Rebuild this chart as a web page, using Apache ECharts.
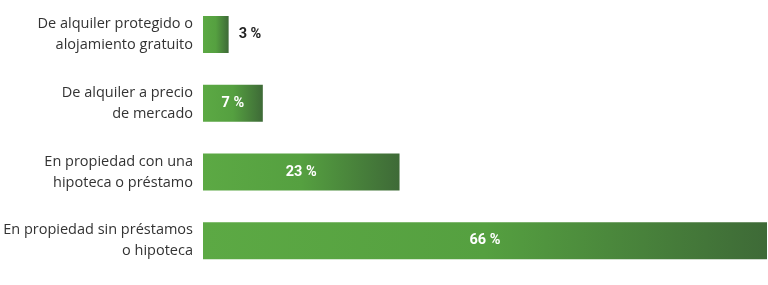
<!DOCTYPE html>
<html><head><meta charset="utf-8">
<script src="https://cdn.jsdelivr.net/npm/echarts@6/dist/echarts.min.js"></script>
<style>html,body{margin:0;padding:0;background:#fff}#c{width:768px;height:285px}</style>
</head><body><div id="c"></div>
<script>
const categories = [
  "De alquiler protegido o\nalojamiento gratuito",
  "De alquiler a precio\nde mercado",
  "En propiedad con una\nhipoteca o préstamo",
  "En propiedad sin préstamos\no hipoteca"
];
const values = [3, 7, 23, 66];
const valueLabels = ["3 %", "7 %", "23 %", "66 %"];

const grad = () => new echarts.graphic.LinearGradient(0, 0, 1, 0, [
  {offset: 0, color: '#5ca944'},
  {offset: 0.5, color: '#55a040'},
  {offset: 1, color: '#3e6a37'}
]);

const chart = echarts.init(document.getElementById('c'));
chart.setOption({
  animation: false,
  grid: {left: 203, right: 1, top: -1, bottom: 10, containLabel: false},
  xAxis: {type: 'value', min: 0, max: 66, show: false},
  yAxis: {
    type: 'category', data: categories, inverse: true,
    axisLine: {show: false}, axisTick: {show: false},
    axisLabel: {fontFamily: 'Open Sans', fontSize: 14.5, color: '#333', lineHeight: 21, margin: 10, align: 'right'}
  },
  series: [{
    type: 'bar', barWidth: 37,
    data: values.map((v, i) => ({
      value: v,
      itemStyle: {color: grad()},
      label: {
        show: true,
        position: i === 0 ? 'right' : 'inside',
        distance: 10,
        color: i === 0 ? '#222' : '#fff',
        fontFamily: 'Roboto', fontWeight: 'bold', fontSize: 14.5,
        formatter: () => valueLabels[i]
      }
    }))
  }]
});
</script></body></html>
